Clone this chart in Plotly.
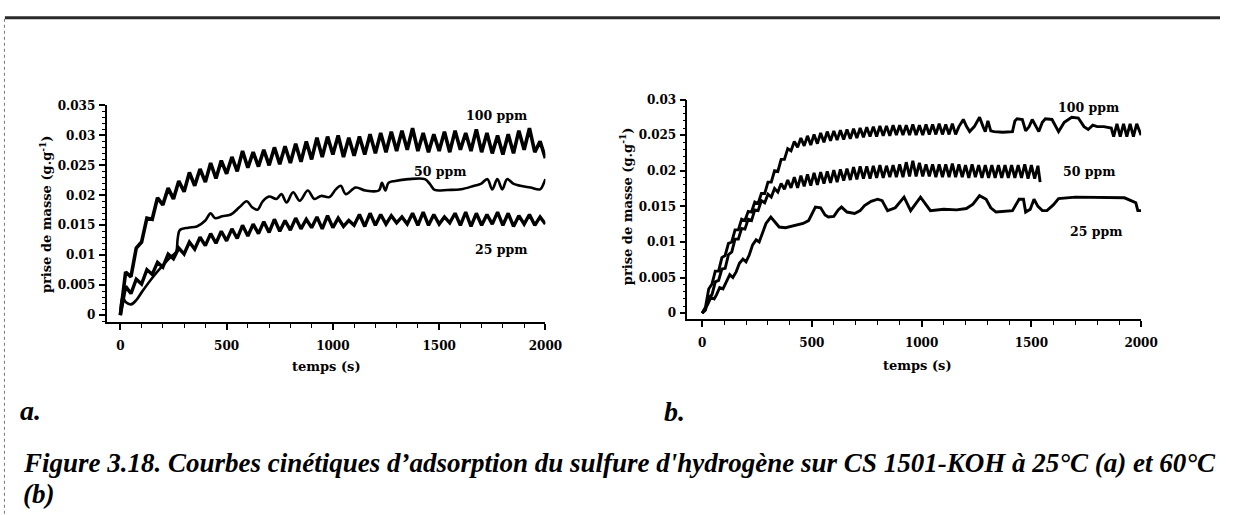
import plotly.graph_objects as go

W, H = 1237, 515

# ---------------- (a) 25 °C ----------------
t_a_100 = list(range(0, 2001, 25))
m_a_100 = [0, 0.0072, 0.0064, 0.0112, 0.0122, 0.0162, 0.0160, 0.0196, 0.0184, 0.0212,
           0.0194, 0.0224, 0.0206, 0.0238, 0.0216, 0.0244, 0.0222, 0.0254, 0.0228, 0.0258,
           0.0236, 0.0264, 0.0240, 0.0274, 0.0246, 0.0272, 0.0248, 0.0276, 0.0250, 0.0280,
           0.0252, 0.0282, 0.0254, 0.0286, 0.0256, 0.0290, 0.0260, 0.0296, 0.0264, 0.0298,
           0.0268, 0.0300, 0.0264, 0.0296, 0.0266, 0.0298, 0.0268, 0.0302, 0.0270, 0.0304,
           0.0272, 0.0306, 0.0274, 0.0308, 0.0276, 0.0312, 0.0274, 0.0304, 0.0272, 0.0302,
           0.0274, 0.0306, 0.0272, 0.0308, 0.0276, 0.0304, 0.0274, 0.0310, 0.0272, 0.0304,
           0.0270, 0.0300, 0.0268, 0.0302, 0.0270, 0.0308, 0.0276, 0.0312, 0.0272, 0.0290,
           0.0262]

t_a_50 = [0, 10, 25, 50, 75, 100, 150, 200, 240, 262, 270, 280, 320, 360, 400, 425, 445,
          480, 520, 560, 595, 620, 645, 670, 700, 735, 758, 782, 813, 844, 882, 913, 944,
          983, 1014, 1037, 1061, 1107, 1154, 1216, 1231, 1247, 1262, 1293, 1355, 1433, 1456,
          1479, 1541, 1603, 1665, 1696, 1727, 1750, 1774, 1797, 1820, 1851, 1882, 1929, 1975,
          1991, 2000]
m_a_50 = [0, 0.0030, 0.0022, 0.0018, 0.0025, 0.0038, 0.0062, 0.0083, 0.0098, 0.0105,
          0.0128, 0.0142, 0.0146, 0.0148, 0.0158, 0.0170, 0.0162, 0.0165, 0.0168, 0.0180,
          0.0190, 0.0180, 0.0176, 0.0190, 0.0198, 0.0194, 0.0202, 0.0188, 0.0205, 0.0191,
          0.0208, 0.0194, 0.0199, 0.0197, 0.0210, 0.0216, 0.0202, 0.0213, 0.0208, 0.0208,
          0.0221, 0.0208, 0.0221, 0.0224, 0.0227, 0.0227, 0.0219, 0.0209, 0.0209, 0.0210,
          0.0216, 0.0219, 0.0227, 0.0210, 0.0227, 0.0210, 0.0227, 0.0219, 0.0216, 0.0213,
          0.0210, 0.0219, 0.0227]

t_a_25 = list(range(0, 2001, 25))
m_a_25 = [0, 0.0048, 0.0036, 0.0060, 0.0052, 0.0076, 0.0068, 0.0088, 0.0080, 0.0102,
          0.0094, 0.0112, 0.0102, 0.0122, 0.0110, 0.0130, 0.0116, 0.0136, 0.0120, 0.0140,
          0.0124, 0.0144, 0.0128, 0.0150, 0.0132, 0.0152, 0.0136, 0.0156, 0.0138, 0.0160,
          0.0140, 0.0158, 0.0142, 0.0162, 0.0144, 0.0160, 0.0146, 0.0164, 0.0144, 0.0166,
          0.0146, 0.0162, 0.0148, 0.0158, 0.0150, 0.0168, 0.0148, 0.0170, 0.0150, 0.0168,
          0.0152, 0.0166, 0.0154, 0.0164, 0.0152, 0.0170, 0.0150, 0.0172, 0.0150, 0.0168,
          0.0152, 0.0164, 0.0154, 0.0170, 0.0150, 0.0172, 0.0148, 0.0170, 0.0150, 0.0168,
          0.0152, 0.0172, 0.0150, 0.0170, 0.0148, 0.0166, 0.0152, 0.0168, 0.0150, 0.0164,
          0.0152]

# ---------------- (b) 60 °C ----------------
t_b_100 = list(range(0, 1171, 15)) + [
    1190, 1205, 1219, 1240, 1264, 1280, 1290, 1302, 1315, 1330, 1370, 1414, 1425, 1435,
    1459, 1474, 1490, 1504, 1520, 1534, 1550, 1564, 1594, 1610, 1624, 1650, 1684, 1714,
    1740, 1759, 1780, 1800, 1830, 1864, 1875, 1890, 1905, 1920, 1935, 1950, 1965, 1980,
    2000]
m_b_100 = [0, 0.0008, 0.0034, 0.0041, 0.0059, 0.0059, 0.0078, 0.0081, 0.0098, 0.0100,
           0.0117, 0.0117, 0.0132, 0.0130, 0.0143, 0.0142, 0.0156, 0.0154, 0.0168, 0.0168,
           0.0184, 0.0184, 0.0200, 0.0199, 0.0216, 0.0216, 0.0231, 0.0228, 0.0241, 0.0233,
           0.0246, 0.0235, 0.0249, 0.0236, 0.0251, 0.0238, 0.0253, 0.0240, 0.0255, 0.0242,
           0.0256, 0.0243, 0.0257, 0.0244, 0.0258, 0.0245, 0.0259, 0.0246, 0.0260, 0.0247,
           0.0261, 0.0248, 0.0262, 0.0248, 0.0263, 0.0249, 0.0263, 0.0249, 0.0264, 0.0250,
           0.0264, 0.0250, 0.0264, 0.0250, 0.0265, 0.0250, 0.0264, 0.0250, 0.0265, 0.0251,
           0.0265, 0.0251, 0.0266, 0.0251, 0.0265, 0.0251, 0.0266, 0.0251, 0.0262,
           0.0272, 0.0262, 0.0255, 0.0262, 0.0275, 0.0262, 0.0255, 0.0270, 0.0256, 0.0255,
           0.0254, 0.0255, 0.0270, 0.0273, 0.0272, 0.0256, 0.0262, 0.0272, 0.0262, 0.0255,
           0.0268, 0.0273, 0.0272, 0.0262, 0.0255, 0.0268, 0.0275, 0.0274, 0.0262, 0.0258,
           0.0264, 0.0262, 0.0262, 0.0260, 0.0248, 0.0266, 0.0248, 0.0266, 0.0248, 0.0266,
           0.0248, 0.0266, 0.0250]

t_b_50 = list(range(0, 1531, 15)) + [1540]
m_b_50 = [0, 0.0004, 0.0022, 0.0026, 0.0044, 0.0046, 0.0062, 0.0063, 0.0082, 0.0086,
          0.0104, 0.0104, 0.0119, 0.0118, 0.0132, 0.0130, 0.0145, 0.0144, 0.0158, 0.0155,
          0.0167, 0.0163, 0.0175, 0.0170, 0.0182, 0.0174, 0.0187, 0.0176, 0.0191, 0.0176,
          0.0193, 0.0178, 0.0195, 0.0179, 0.0197, 0.0180, 0.0198, 0.0182, 0.0199, 0.0183,
          0.0201, 0.0184, 0.0202, 0.0186, 0.0203, 0.0187, 0.0205, 0.0188, 0.0206, 0.0189,
          0.0206, 0.0189, 0.0207, 0.0190, 0.0208, 0.0190, 0.0207, 0.0191, 0.0208, 0.0191,
          0.0209, 0.0191, 0.0212, 0.0192, 0.0214, 0.0192, 0.0211, 0.0192, 0.0209, 0.0192,
          0.0209, 0.0191, 0.0209, 0.0191, 0.0209, 0.0191, 0.0210, 0.0191, 0.0209, 0.0191,
          0.0208, 0.0190, 0.0209, 0.0191, 0.0208, 0.0190, 0.0208, 0.0190, 0.0208, 0.0190,
          0.0208, 0.0190, 0.0208, 0.0190, 0.0208, 0.0190, 0.0208, 0.0190, 0.0209, 0.0189,
          0.0208, 0.0189, 0.0207, 0.0184]

t_b_25 = [0, 10, 25, 40, 55, 66, 80, 95, 110, 126, 140, 155, 170, 186, 200, 215, 230, 246,
          260, 275, 291, 313, 330, 351, 380, 426, 460, 485, 500, 516, 540, 560, 575, 600,
          620, 635, 660, 695, 720, 740, 770, 800, 820, 845, 880, 920, 950, 995, 1040, 1100,
          1160, 1204, 1234, 1264, 1294, 1315, 1339, 1414, 1444, 1464, 1474, 1495, 1512,
          1530, 1550, 1571, 1600, 1624, 1700, 1800, 1924, 1954, 1976, 1985, 2000]
m_b_25 = [0, 0.0005, 0.0012, 0.0022, 0.0020, 0.0026, 0.0036, 0.0034, 0.0044, 0.0054,
          0.0050, 0.0058, 0.0070, 0.0076, 0.0072, 0.0082, 0.0096, 0.0103, 0.0100, 0.0112,
          0.0126, 0.0135, 0.0128, 0.0121, 0.0120, 0.0123, 0.0126, 0.0130, 0.0140, 0.0149,
          0.0148, 0.0138, 0.0135, 0.0136, 0.0145, 0.0149, 0.0142, 0.0140, 0.0144, 0.0151,
          0.0157, 0.0160, 0.0158, 0.0144, 0.0148, 0.0163, 0.0144, 0.0163, 0.0144, 0.0146,
          0.0145, 0.0147, 0.0153, 0.0165, 0.0160, 0.0148, 0.0142, 0.0144, 0.0160, 0.0160,
          0.0142, 0.0146, 0.0160, 0.0150, 0.0144, 0.0144, 0.0152, 0.0161, 0.0163, 0.0163,
          0.0162, 0.0158, 0.0155, 0.0144, 0.0144]

x_ticks = [0, 500, 1000, 1500, 2000]
x_ticktext = ["0", "500", "1000", "1500", "2000"]
y_ticks_a = [0, 0.005, 0.01, 0.015, 0.02, 0.025, 0.03, 0.035]
y_ticktext_a = ["0", "0.005", "0.01", "0.015", "0.02", "0.025", "0.03", "0.035"]
y_ticks_b = [0, 0.005, 0.01, 0.015, 0.02, 0.025, 0.03]
y_ticktext_b = ["0", "0.005", "0.01", "0.015", "0.02", "0.025", "0.03"]
series_labels = ["100 ppm", "50 ppm", "25 ppm"]
axis_x_title = "temps (s)"
axis_y_title = "prise de masse (g.g<sup>-1</sup>)"
caption_line1 = ("Figure 3.18. Courbes cinétiques d’adsorption du sulfure d'hydrogène "
                 "sur CS 1501-KOH à 25°C (a) et 60°C")
caption_line2 = "(b)"

TICK = dict(family="DejaVu Serif", size=12, color="black", weight="bold")
LBL = dict(family="DejaVu Serif", size=12.5, color="black", weight="bold")
TITLE = dict(family="DejaVu Serif", size=13, color="black", weight="bold")
CAP = dict(family="Liberation Serif", size=27, color="black", weight="bold", style="italic")


def px(x):
    return x / W


def py(y):
    return 1 - y / H


fig = go.Figure()
fig.add_trace(go.Scatter(x=t_a_100, y=m_a_100, mode="lines", line=dict(color="black", width=3.6),
                         xaxis="x", yaxis="y"))
fig.add_trace(go.Scatter(x=t_a_50, y=m_a_50, mode="lines", line=dict(color="black", width=2.6),
                         line_shape="spline", xaxis="x", yaxis="y"))
fig.add_trace(go.Scatter(x=t_a_25, y=m_a_25, mode="lines", line=dict(color="black", width=3.4),
                         xaxis="x", yaxis="y"))
fig.add_trace(go.Scatter(x=t_b_100, y=m_b_100, mode="lines", line=dict(color="black", width=2.9),
                         xaxis="x2", yaxis="y2"))
fig.add_trace(go.Scatter(x=t_b_50, y=m_b_50, mode="lines", line=dict(color="black", width=2.9),
                         xaxis="x2", yaxis="y2"))
fig.add_trace(go.Scatter(x=t_b_25, y=m_b_25, mode="lines", line=dict(color="black", width=2.9),
                         xaxis="x2", yaxis="y2"))

axis_common = dict(showline=True, linecolor="black", linewidth=1.6, showgrid=False,
                   zeroline=False, ticks="outside", tickcolor="black", tickwidth=1.5,
                   ticklen=6, tickfont=TICK, fixedrange=True)
minor_x = dict(dtick=100, tick0=0, ticklen=4, tickcolor="black", tickwidth=1.2, ticks="outside")
minor_y = dict(dtick=0.001, tick0=0, ticklen=3, tickcolor="black", tickwidth=1.2, ticks="outside")

fig.update_layout(
    width=W, height=H, autosize=False, margin=dict(l=0, r=0, t=0, b=0),
    paper_bgcolor="white", plot_bgcolor="white", showlegend=False,
    xaxis=dict(domain=[px(108), px(553)], range=[-65, 2000], anchor="y",
               tickvals=x_ticks, ticktext=x_ticktext, ticklabelstandoff=6, minor=minor_x,
               **axis_common),
    yaxis=dict(domain=[py(320), py(100)], range=[-0.00115, 0.035], anchor="x",
               tickvals=y_ticks_a, ticktext=y_ticktext_a, ticklabelstandoff=1, minor=minor_y,
               **axis_common),
    xaxis2=dict(domain=[px(697), px(1157)], range=[-67, 2000], anchor="y2",
                tickvals=x_ticks, ticktext=x_ticktext, ticklabelstandoff=6, minor=minor_x,
                **axis_common),
    yaxis2=dict(domain=[py(317), py(94)], range=[-0.00083, 0.03], anchor="x2",
                tickvals=y_ticks_b, ticktext=y_ticktext_b, ticklabelstandoff=1, minor=minor_y,
                **axis_common),
)

ann = []


def label(text, x, y, font, angle=0, xanchor="center"):
    ann.append(dict(text=text, x=px(x), y=py(y), xref="paper", yref="paper",
                    showarrow=False, font=font, textangle=angle,
                    xanchor=xanchor, yanchor="middle"))


# series labels
label(series_labels[0], 503, 110, LBL)
label(series_labels[1], 446, 167, LBL)
label(series_labels[2], 508, 246, LBL)
label(series_labels[0], 1104, 102, LBL)
label(series_labels[1], 1104, 167, LBL)
label(series_labels[2], 1111, 228, LBL)

# axis titles
label(axis_x_title, 331, 365, TITLE)
label(axis_x_title, 930, 364, TITLE)
label(axis_y_title, 46, 210, TITLE, angle=-90)
label(axis_y_title, 635, 202, TITLE, angle=-90)

# panel letters and caption
label("a.", 18, 410, dict(CAP, size=28), xanchor="left")
label("b.", 671, 411, dict(CAP, size=28), xanchor="left")
label(caption_line1, 21, 463, CAP, xanchor="left")
label(caption_line2, 21, 495, CAP, xanchor="left")

fig.update_layout(annotations=ann)

# page frame: rule across the top and dotted rule on the left
fig.add_shape(type="line", xref="paper", yref="paper", x0=px(5), x1=1, y0=py(11), y1=py(11),
              line=dict(color="#2a2a2a", width=3))
fig.add_shape(type="line", xref="paper", yref="paper", x0=px(4.5), x1=px(4.5), y0=py(12), y1=0,
              line=dict(color="#777777", width=1, dash="dot"))

fig.write_html("out.html", config={"responsive": False},
               post_script="document.body.style.margin='0';document.body.style.overflow='hidden';")
